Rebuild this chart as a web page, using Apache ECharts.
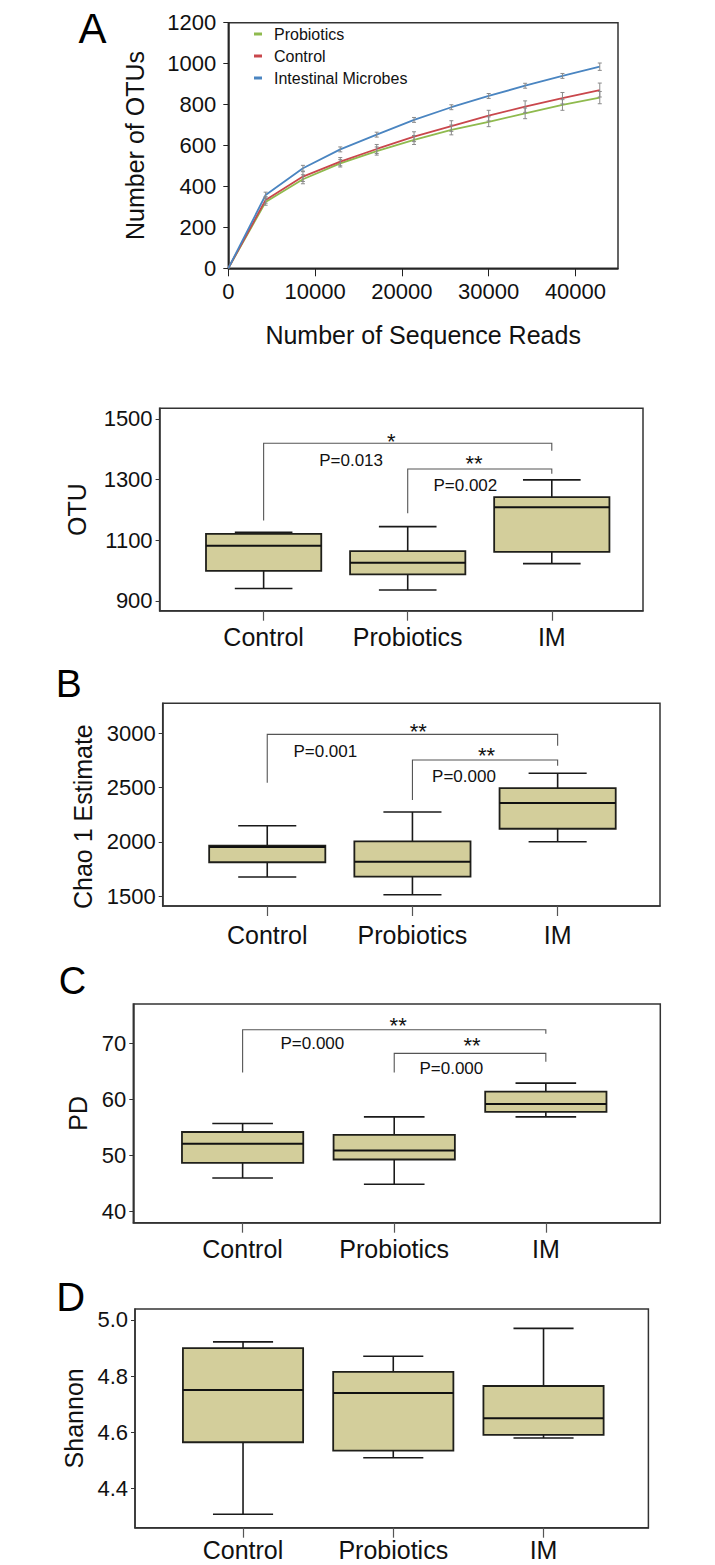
<!DOCTYPE html>
<html><head><meta charset="utf-8">
<script src="https://cdn.jsdelivr.net/npm/echarts@6/dist/echarts.min.js"></script>
<style>html,body{margin:0;padding:0;background:#fff}#c{width:715px;height:1565px}</style>
</head><body><div id="c"></div>
<script>
// ---------- Panel A: rarefaction curves ----------
const reads = [0, 4300, 8600, 12900, 17100, 21400, 25700, 30000, 34200, 38500, 42800];
const otuProbiotics = [0, 324, 435, 513, 573, 627, 676, 716, 757, 798, 834];
const otuControl = [0, 334, 448, 521, 583, 643, 695, 746, 790, 831, 871];
const otuIM = [0, 358, 489, 581, 653, 725, 787, 842, 892, 940, 985];
const errProbiotics = [0, 16, 22, 18, 20, 22, 24, 24, 26, 26, 30];
const errControl = [0, 16, 24, 20, 22, 24, 26, 26, 28, 28, 34];
const errIM = [0, 14, 14, 12, 12, 12, 12, 12, 12, 12, 18];
const readTicks = [0, 10000, 20000, 30000, 40000];
const otuCountTicks = [0, 200, 400, 600, 800, 1000, 1200];

// ---------- Box panels ----------
const groups = ['Control', 'Probiotics', 'IM'];
// each box: [min, Q1, median, Q3, max]
const otuBox = [[941, 999, 1082, 1121, 1126], [936, 988, 1026, 1064, 1145], [1023, 1062, 1209, 1242, 1299]];
const chaoBox = [[1675, 1811, 1952, 1964, 2148], [1512, 1678, 1816, 2004, 2274], [2000, 2120, 2357, 2495, 2631]];
const pdBox = [[46.0, 48.7, 52.1, 54.2, 55.7], [44.9, 49.3, 50.9, 53.7, 56.9], [56.9, 57.8, 59.2, 61.4, 62.9]];
const shannonBox = [[4.309, 4.565, 4.751, 4.900, 4.922], [4.510, 4.535, 4.740, 4.815, 4.871], [4.580, 4.591, 4.650, 4.765, 4.970]];
const otuTicks = [900, 1100, 1300, 1500];
const chaoTicks = [1500, 2000, 2500, 3000];
const pdTicks = [40, 50, 60, 70];
const shannonTicks = [4.4, 4.6, 4.8, 5.0];
// significance brackets: [fromGroup, toGroup, leftStart, top, rightEnd]
const otuBrackets = [[1, 3, 1165, 1420, 1395], [2, 3, 1189, 1335, 1319]];
const chaoBrackets = [[1, 3, 2544, 2990, 2885], [2, 3, 2385, 2753, 2701]];
const pdBrackets = [[1, 3, 64.8, 72.4, 71.7], [2, 3, 64.8, 68.2, 66.7]];
// annotations: [x, y, text]
const otuNotes = [[1.886, 1447, '*'], [1.607, 1363, 'P=0.013'], [2.46, 1372, '**'], [2.40, 1280, 'P=0.002']];
const chaoNotes = [[2.04, 3067, '**'], [1.40, 2830, 'P=0.001'], [2.51, 2848, '**'], [2.355, 2597, 'P=0.000']];
const pdNotes = [[2.026, 74.2, '**'], [1.46, 69.9, 'P=0.000'], [2.513, 70.7, '**'], [2.377, 65.5, 'P=0.000']];

const FONT = "'Liberation Sans',Arial,sans-serif";
const INK = '#111';
const FRAME = '#333';

const chart = echarts.init(document.getElementById('c'), null, {renderer: 'svg'});

const gridBase = {show: true, borderColor: FRAME, borderWidth: 1.5, backgroundColor: 'transparent', containLabel: false};
const grids = [
  Object.assign({left: 228.3, top: 22.7, width: 389.7, height: 245.6}, gridBase),
  Object.assign({left: 159.6, top: 408.3, width: 483.4, height: 202.4}, gridBase),
  Object.assign({left: 162.7, top: 703.3, width: 497.3, height: 202.7}, gridBase),
  Object.assign({left: 133.3, top: 1004, width: 527, height: 218.7}, gridBase),
  Object.assign({left: 135, top: 1309, width: 513.4, height: 218.7}, gridBase)
];

const positions = groups.map((g, i) => i + 1);

function boxX(gi, min, max, margin) {
  return {
    gridIndex: gi, type: 'value', min: min, max: max,
    axisLine: {show: true, lineStyle: {color: FRAME, width: 1.5}},
    axisTick: {show: true, customValues: positions, length: 10, lineStyle: {color: '#555', width: 1.2}},
    axisLabel: {customValues: positions, formatter: v => groups[Math.round(v) - 1], fontSize: 25, fontFamily: FONT, color: INK, margin: margin},
    splitLine: {show: false}
  };
}
function boxY(gi, min, max, ticks, name, gap, fmt, pad) {
  return {
    gridIndex: gi, type: 'value', min: min, max: max,
    axisLine: {show: true, lineStyle: {color: FRAME, width: 1.5}},
    axisTick: {show: true, customValues: ticks, length: 4, lineStyle: {color: FRAME}},
    axisLabel: {customValues: ticks, formatter: fmt || (v => String(v)), fontSize: 22, fontFamily: FONT, color: INK, margin: 7},
    splitLine: {show: false},
    name: name, nameLocation: 'middle', nameGap: gap,
    nameTextStyle: {fontSize: 25, fontFamily: FONT, color: INK, padding: pad || 0}
  };
}

function renderBox(params, api) {
  const x = api.value(0);
  const lo = api.coord([x, api.value(1)]);
  const q1 = api.coord([x, api.value(2)]);
  const md = api.coord([x, api.value(3)]);
  const q3 = api.coord([x, api.value(4)]);
  const hi = api.coord([x, api.value(5)]);
  const bw = api.size([0.8, 0])[0];
  const cw = api.size([0.4, 0])[0];
  const cx = lo[0];
  const ls = {stroke: '#1a1a1a', lineWidth: 1.6, fill: null};
  return {type: 'group', children: [
    {type: 'line', shape: {x1: cx, y1: hi[1], x2: cx, y2: q3[1]}, style: ls},
    {type: 'line', shape: {x1: cx, y1: q1[1], x2: cx, y2: lo[1]}, style: ls},
    {type: 'line', shape: {x1: cx - cw / 2, y1: hi[1], x2: cx + cw / 2, y2: hi[1]}, style: ls},
    {type: 'line', shape: {x1: cx - cw / 2, y1: lo[1], x2: cx + cw / 2, y2: lo[1]}, style: ls},
    {type: 'rect', shape: {x: cx - bw / 2, y: q3[1], width: bw, height: q1[1] - q3[1]}, style: {fill: '#d3ce9b', stroke: '#1f1f1a', lineWidth: 1.8}},
    {type: 'line', shape: {x1: cx - bw / 2, y1: md[1], x2: cx + bw / 2, y2: md[1]}, style: {stroke: '#111', lineWidth: 2}}
  ]};
}
function renderBracket(params, api) {
  const p1 = api.coord([api.value(0), api.value(2)]);
  const p2 = api.coord([api.value(0), api.value(3)]);
  const p3 = api.coord([api.value(1), api.value(3)]);
  const p4 = api.coord([api.value(1), api.value(4)]);
  return {type: 'polyline', shape: {points: [p1, p2, p3, p4]}, style: {stroke: '#555', lineWidth: 1.1, fill: null}};
}
function noteRenderer(notes) {
  return function (params, api) {
    const p = api.coord([api.value(0), api.value(1)]);
    const t = notes[params.dataIndex][2];
    const star = t.charAt(0) === '*';
    return {type: 'text', x: p[0], y: p[1] + (star ? 6 : 0),
      style: {text: t, fontSize: star ? 22 : 17, fontFamily: FONT, fill: INK, align: 'center', verticalAlign: 'middle'}};
  };
}
function boxSeries(gi, box) {
  return {type: 'custom', xAxisIndex: gi, yAxisIndex: gi, renderItem: renderBox,
    encode: {x: 0, y: [1, 2, 3, 4, 5]}, z: 3,
    data: box.map((b, i) => [positions[i]].concat(b))};
}
function bracketSeries(gi, br) {
  return {type: 'custom', xAxisIndex: gi, yAxisIndex: gi, renderItem: renderBracket,
    encode: {x: [0, 1], y: [2, 3, 4]}, z: 2, data: br};
}
function noteSeries(gi, notes) {
  return {type: 'custom', xAxisIndex: gi, yAxisIndex: gi, renderItem: noteRenderer(notes),
    encode: {x: 0, y: 1}, z: 4, data: notes.map(n => [n[0], n[1]])};
}
function errSeries(vals, errs) {
  return {type: 'custom', xAxisIndex: 0, yAxisIndex: 0, z: 5,
    encode: {x: 0, y: [1, 2]},
    data: reads.map((r, i) => [r, vals[i] - errs[i], vals[i] + errs[i]]).filter((d, i) => errs[i] > 0),
    renderItem: function (params, api) {
      const a = api.coord([api.value(0), api.value(1)]);
      const b = api.coord([api.value(0), api.value(2)]);
      const st = {stroke: '#8a8a8a', lineWidth: 1, fill: null};
      return {type: 'group', children: [
        {type: 'line', shape: {x1: a[0], y1: a[1], x2: b[0], y2: b[1]}, style: st},
        {type: 'line', shape: {x1: a[0] - 2, y1: a[1], x2: a[0] + 2, y2: a[1]}, style: st},
        {type: 'line', shape: {x1: b[0] - 2, y1: b[1], x2: b[0] + 2, y2: b[1]}, style: st}
      ]};
    }};
}
function lineSeries(name, vals, color) {
  return {type: 'line', name: name, xAxisIndex: 0, yAxisIndex: 0, showSymbol: false, symbol: 'none',
    lineStyle: {width: 1.8, color: color}, itemStyle: {color: color}, z: 4,
    data: reads.map((r, i) => [r, vals[i]])};
}

const letterStyle = (t, size) => ({text: t, fontSize: size, fontFamily: FONT, fill: '#000', align: 'center', verticalAlign: 'middle'});

const option = {
  animation: false,
  backgroundColor: '#fff',
  graphic: [
    {type: 'text', x: 92.5, y: 28, style: letterStyle('A', 42)},
    {type: 'text', x: 68.8, y: 683.7, style: letterStyle('B', 39)},
    {type: 'text', x: 72.5, y: 980.5, style: letterStyle('C', 38)},
    {type: 'text', x: 70.7, y: 1296.7, style: letterStyle('D', 40)}
  ],
  legend: {
    left: 249, top: 18, orient: 'vertical', icon: 'rect', itemWidth: 8, itemHeight: 3, itemGap: 0,
    selectedMode: false,
    textStyle: {fontSize: 16, lineHeight: 16, fontFamily: FONT, color: INK, padding: [0, 0, 6, 7]},
    data: ['Probiotics', 'Control', 'Intestinal Microbes']
  },
  grid: grids,
  xAxis: [
    {gridIndex: 0, type: 'value', min: 0, max: 44900,
      axisLine: {lineStyle: {color: '#222', width: 1.5}},
      axisTick: {customValues: readTicks, length: 8, lineStyle: {color: '#222'}},
      axisLabel: {customValues: readTicks, formatter: v => String(v), fontSize: 22, fontFamily: FONT, color: INK, margin: 12},
      splitLine: {show: false},
      name: 'Number of Sequence Reads', nameLocation: 'middle', nameGap: 54,
      nameTextStyle: {fontSize: 25, fontFamily: FONT, color: INK}},
    boxX(1, 0.278, 3.633, 13.5),
    boxX(2, 0.280, 3.705, 16.5),
    boxX(3, 0.279, 3.755, 14),
    boxX(4, 0.281, 3.698, 9.8)
  ],
  yAxis: [
    {gridIndex: 0, type: 'value', min: 0, max: 1200,
      axisLine: {lineStyle: {color: '#222', width: 1.5}},
      axisTick: {customValues: otuCountTicks, length: 5, lineStyle: {color: '#222'}},
      axisLabel: {customValues: otuCountTicks, formatter: v => String(v), fontSize: 22, fontFamily: FONT, color: INK, margin: 12},
      splitLine: {show: false},
      name: 'Number of OTUs', nameLocation: 'middle', nameGap: 81,
      nameTextStyle: {fontSize: 25, fontFamily: FONT, color: INK}},
    boxY(1, 868, 1535, otuTicks, 'OTU', 70),
    boxY(2, 1408, 3276, chaoTicks, 'Chao 1 Estimate', 66, null, [0, 24, 0, 0]),
    boxY(3, 38.04, 77.0, pdTicks, 'PD', 41),
    boxY(4, 4.261, 5.039, shannonTicks, 'Shannon', 46, v => v.toFixed(1))
  ],
  series: [
    lineSeries('Probiotics', otuProbiotics, '#8fba4e'),
    lineSeries('Control', otuControl, '#c9474c'),
    lineSeries('Intestinal Microbes', otuIM, '#4a85c1'),
    errSeries(otuProbiotics, errProbiotics),
    errSeries(otuControl, errControl),
    errSeries(otuIM, errIM),
    bracketSeries(1, otuBrackets), boxSeries(1, otuBox), noteSeries(1, otuNotes),
    bracketSeries(2, chaoBrackets), boxSeries(2, chaoBox), noteSeries(2, chaoNotes),
    bracketSeries(3, pdBrackets), boxSeries(3, pdBox), noteSeries(3, pdNotes),
    boxSeries(4, shannonBox)
  ]
};
chart.setOption(option);
</script>
</body></html>
